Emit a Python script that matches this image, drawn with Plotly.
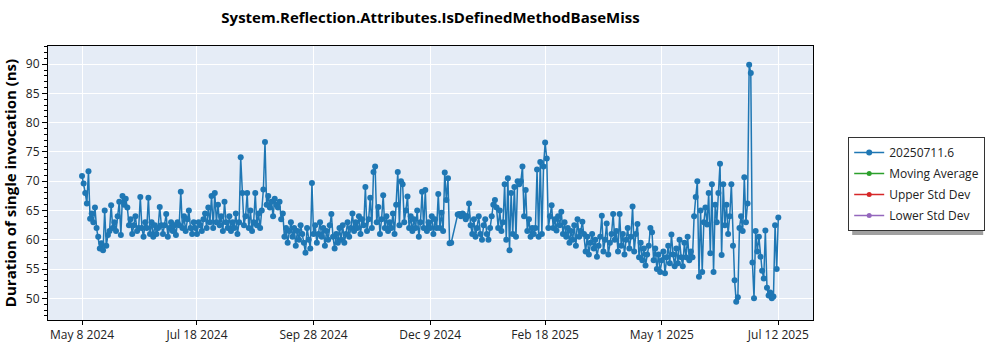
import pandas as pd
import plotly.graph_objects as go

title_text = "System.Reflection.Attributes.IsDefinedMethodBaseMiss"
y_title = "Duration of single invocation (ns)"
series_name = "20250711.6"
extra_names = ["Moving Average", "Upper Std Dev", "Lower Std Dev"]
extra_colors = ["#2ca02c", "#d62728", "#9467bd"]

start_date = "2024-05-08"
gap_days = [229, 230, 231]

values = [
    70.9, 69.6, 68.0, 66.2, 71.7, 63.6, 64.5, 63.0, 65.5, 62.0,
    60.5, 58.5, 59.4, 58.2, 65.0, 59.0, 60.8, 61.5, 65.9, 62.0,
    63.0, 61.5, 64.0, 66.5, 60.8, 67.5, 66.0, 67.0, 65.5, 62.5,
    63.5, 61.0, 62.5, 64.0, 61.5, 62.0, 67.3, 62.0, 60.5, 63.0,
    62.0, 67.2, 61.0, 63.0, 60.5, 62.5, 61.0, 62.0, 65.6, 62.5,
    61.0, 62.5, 64.4, 60.5, 62.0, 63.0, 61.5, 62.5, 60.8, 63.0,
    62.5, 68.2, 62.0, 64.0, 61.5, 63.5, 65.0, 62.0, 61.0, 63.0,
    62.0, 61.0, 63.0, 62.5, 61.5, 63.5, 64.5, 62.0, 65.5, 63.0,
    67.5, 62.0, 68.0, 63.0, 66.0, 62.5, 64.0, 61.5, 66.5, 63.0,
    62.0, 64.0, 61.5, 63.0, 62.0, 64.5, 61.0, 63.0, 74.1, 68.0,
    62.5, 64.0, 68.0, 62.0, 65.0, 61.5, 63.0, 68.0, 62.5, 64.5,
    62.0, 65.0, 68.6, 76.7, 66.0, 67.5, 65.5, 66.5, 64.0, 67.0,
    66.0, 65.5, 66.5, 63.5, 64.5, 60.5, 62.0, 59.5, 61.5, 63.0,
    60.5, 62.0, 59.0, 61.5, 60.0, 62.5, 61.0, 59.5, 57.8, 62.0,
    60.0, 58.5, 69.7, 61.0, 62.5, 59.5, 61.0, 63.0, 60.5, 62.0,
    59.0, 61.5, 60.0, 62.5, 64.4, 60.5, 58.5, 61.0, 59.5, 62.0,
    60.0, 62.5, 59.5, 61.0, 63.0, 60.5, 62.0, 64.5, 61.5, 63.0,
    62.0, 64.0, 61.0, 63.5, 62.5, 69.0, 61.5, 63.5, 67.2, 62.0,
    71.6, 72.5, 63.0, 65.6, 61.0, 63.5, 67.6, 62.0, 64.0, 61.5,
    63.0, 62.0, 64.5, 61.0, 66.0, 71.6, 62.5, 70.0, 69.5, 63.0,
    65.0, 67.4, 62.0, 64.0, 61.5, 63.5, 62.0, 65.0, 60.5, 63.0,
    68.2, 62.0, 68.5, 61.5, 63.0, 62.0, 64.0, 61.0, 63.5, 62.0,
    67.8, 62.0, 64.6, 61.5, 71.5, 66.8, 70.5, 59.4, 59.5,
    64.3, 64.4, 64.0, 64.5, 64.2, 63.5, 64.0, 66.2,
    62.5, 61.0, 63.5, 60.5, 62.0, 64.0, 61.0, 60.0, 62.5, 63.5,
    61.0, 60.0, 62.0, 64.0, 66.0, 66.8, 65.5, 62.0, 65.0, 61.5,
    63.0, 69.5, 60.0, 70.5, 58.2, 68.0, 61.0, 69.0, 60.5, 70.0,
    69.5, 70.0, 72.5, 64.0, 68.5, 61.5, 63.5, 60.5, 62.0, 61.0,
    62.0, 72.0, 60.5, 73.3, 61.0, 72.5, 76.6, 73.9, 62.0, 64.0,
    65.9, 62.0, 63.5, 61.6, 64.0, 62.5, 64.8, 61.0, 63.0, 60.5,
    62.0, 59.5, 61.5, 60.0, 62.5, 59.0, 63.5, 60.5, 61.5, 63.1,
    61.0, 58.0, 60.5, 57.5, 59.5, 61.0, 58.5, 60.0, 57.1, 59.0,
    60.5, 64.1, 58.0, 60.0, 62.8, 57.5, 59.5, 61.0, 64.4, 60.0,
    61.5, 58.0, 64.4, 59.0, 61.0, 57.5, 60.0, 62.0, 58.5, 60.5,
    65.7, 58.0, 61.0, 62.7, 57.0, 59.5, 56.5, 58.5, 55.6, 57.5,
    59.0, 62.0, 61.3, 56.5, 58.5, 55.0, 57.5, 54.5, 56.5, 58.0,
    54.3, 57.0, 59.0, 56.0, 60.9, 57.5, 55.5, 58.5, 56.0, 60.0,
    57.0, 55.5, 59.5, 57.0, 60.5, 56.5, 58.0, 57.0, 64.0, 67.3,
    70.0, 53.7, 65.0, 54.5, 63.0, 65.5, 62.6, 68.0, 57.7, 69.5,
    54.5, 66.0, 63.0, 68.0, 73.0, 57.4, 69.5, 62.5, 66.0, 61.0,
    64.0, 69.5, 59.0, 53.1, 49.4, 50.2, 62.0, 64.0, 61.5, 70.7,
    63.0, 66.2, 89.9, 88.5, 56.1, 50.0, 61.5, 58.0, 60.5, 57.1,
    54.7, 53.4, 61.6, 51.8, 50.5, 51.0, 50.0, 50.3, 62.5, 55.0,
    63.8,
]

x_tick_dates = ["2024-05-08", "2024-07-18", "2024-09-28", "2024-12-09",
                "2025-02-18", "2025-05-01", "2025-07-12"]
x_tick_labels = ["May 8 2024", "Jul 18 2024", "Sep 28 2024", "Dec 9 2024",
                 "Feb 18 2025", "May 1 2025", "Jul 12 2025"]
x_range = ["2024-04-17", "2025-08-02 10:00"]
y_range = [46.3, 93.1]

n_total = len(values) + len(gap_days)
all_days = pd.date_range(start_date, periods=n_total, freq="D")
dates = [d for i, d in enumerate(all_days) if i not in gap_days]

fig = go.Figure()
fig.add_trace(go.Scatter(
    x=dates, y=values, mode="lines+markers", name=series_name, legendgroup="g0",
    line=dict(color="#1f77b4", width=1.5),
    marker=dict(color="#1f77b4", size=6, symbol="circle"),
))
for k, (nm, col) in enumerate(zip(extra_names, extra_colors)):
    fig.add_trace(go.Scatter(
        x=[None], y=[None], mode="lines+markers", name=nm, legendgroup="g%d" % (k + 1),
        line=dict(color=col, width=1.5),
        marker=dict(color=col, size=5),
    ))

font_family = "Open Sans, Noto Sans, sans-serif"

LX, LY = 1.046, 0.668
fig.update_layout(
    width=1000, height=350,
    margin=dict(l=48, r=187, t=46, b=30, autoexpand=False),
    paper_bgcolor="white",
    plot_bgcolor="#E5ECF6",
    font=dict(family=font_family, size=12, color="#222"),
    title=dict(text="<b>" + title_text + "</b>", x=(48 + 765 / 2) / 1000, xanchor="center",
               y=1 - 18 / 350, yanchor="middle", font=dict(size=15, color="black")),
    showlegend=True,
    legend=dict(x=LX, y=LY, xanchor="left", yanchor="top",
                bgcolor="white", bordercolor="#333", borderwidth=1,
                font=dict(size=12, color="#222"), tracegroupgap=2,
                itemwidth=30),
    shapes=[dict(type="rect", xref="paper", yref="paper",
                 x0=LX + 4 / 765, x1=LX + 135 / 765,
                 y0=LY - 98 / 274, y1=LY - 4 / 274,
                 fillcolor="#a0a0a0", line=dict(width=0), layer="above")],
)
fig.update_xaxes(
    type="date", range=x_range, automargin=False,
    tickvals=x_tick_dates, ticktext=x_tick_labels,
    showgrid=True, gridcolor="white", gridwidth=1,
    showline=True, linecolor="black", linewidth=1, mirror=True,
    ticks="outside", ticklen=4, tickcolor="black",
    tickfont=dict(size=12, color="#222"), zeroline=False,
)
fig.update_yaxes(
    range=y_range, dtick=5, tick0=50, automargin=False,
    showgrid=True, gridcolor="white", gridwidth=1,
    showline=True, linecolor="black", linewidth=1, mirror=True,
    ticks="outside", ticklen=5, tickcolor="black",
    minor=dict(dtick=1, ticks="outside", ticklen=3, tickcolor="black", showgrid=False),
    tickfont=dict(size=12, color="#222"), zeroline=False,
    title=dict(text="<b>" + y_title + "</b>", font=dict(size=15, color="black"), standoff=8),
)

fig.write_html("out.html")
